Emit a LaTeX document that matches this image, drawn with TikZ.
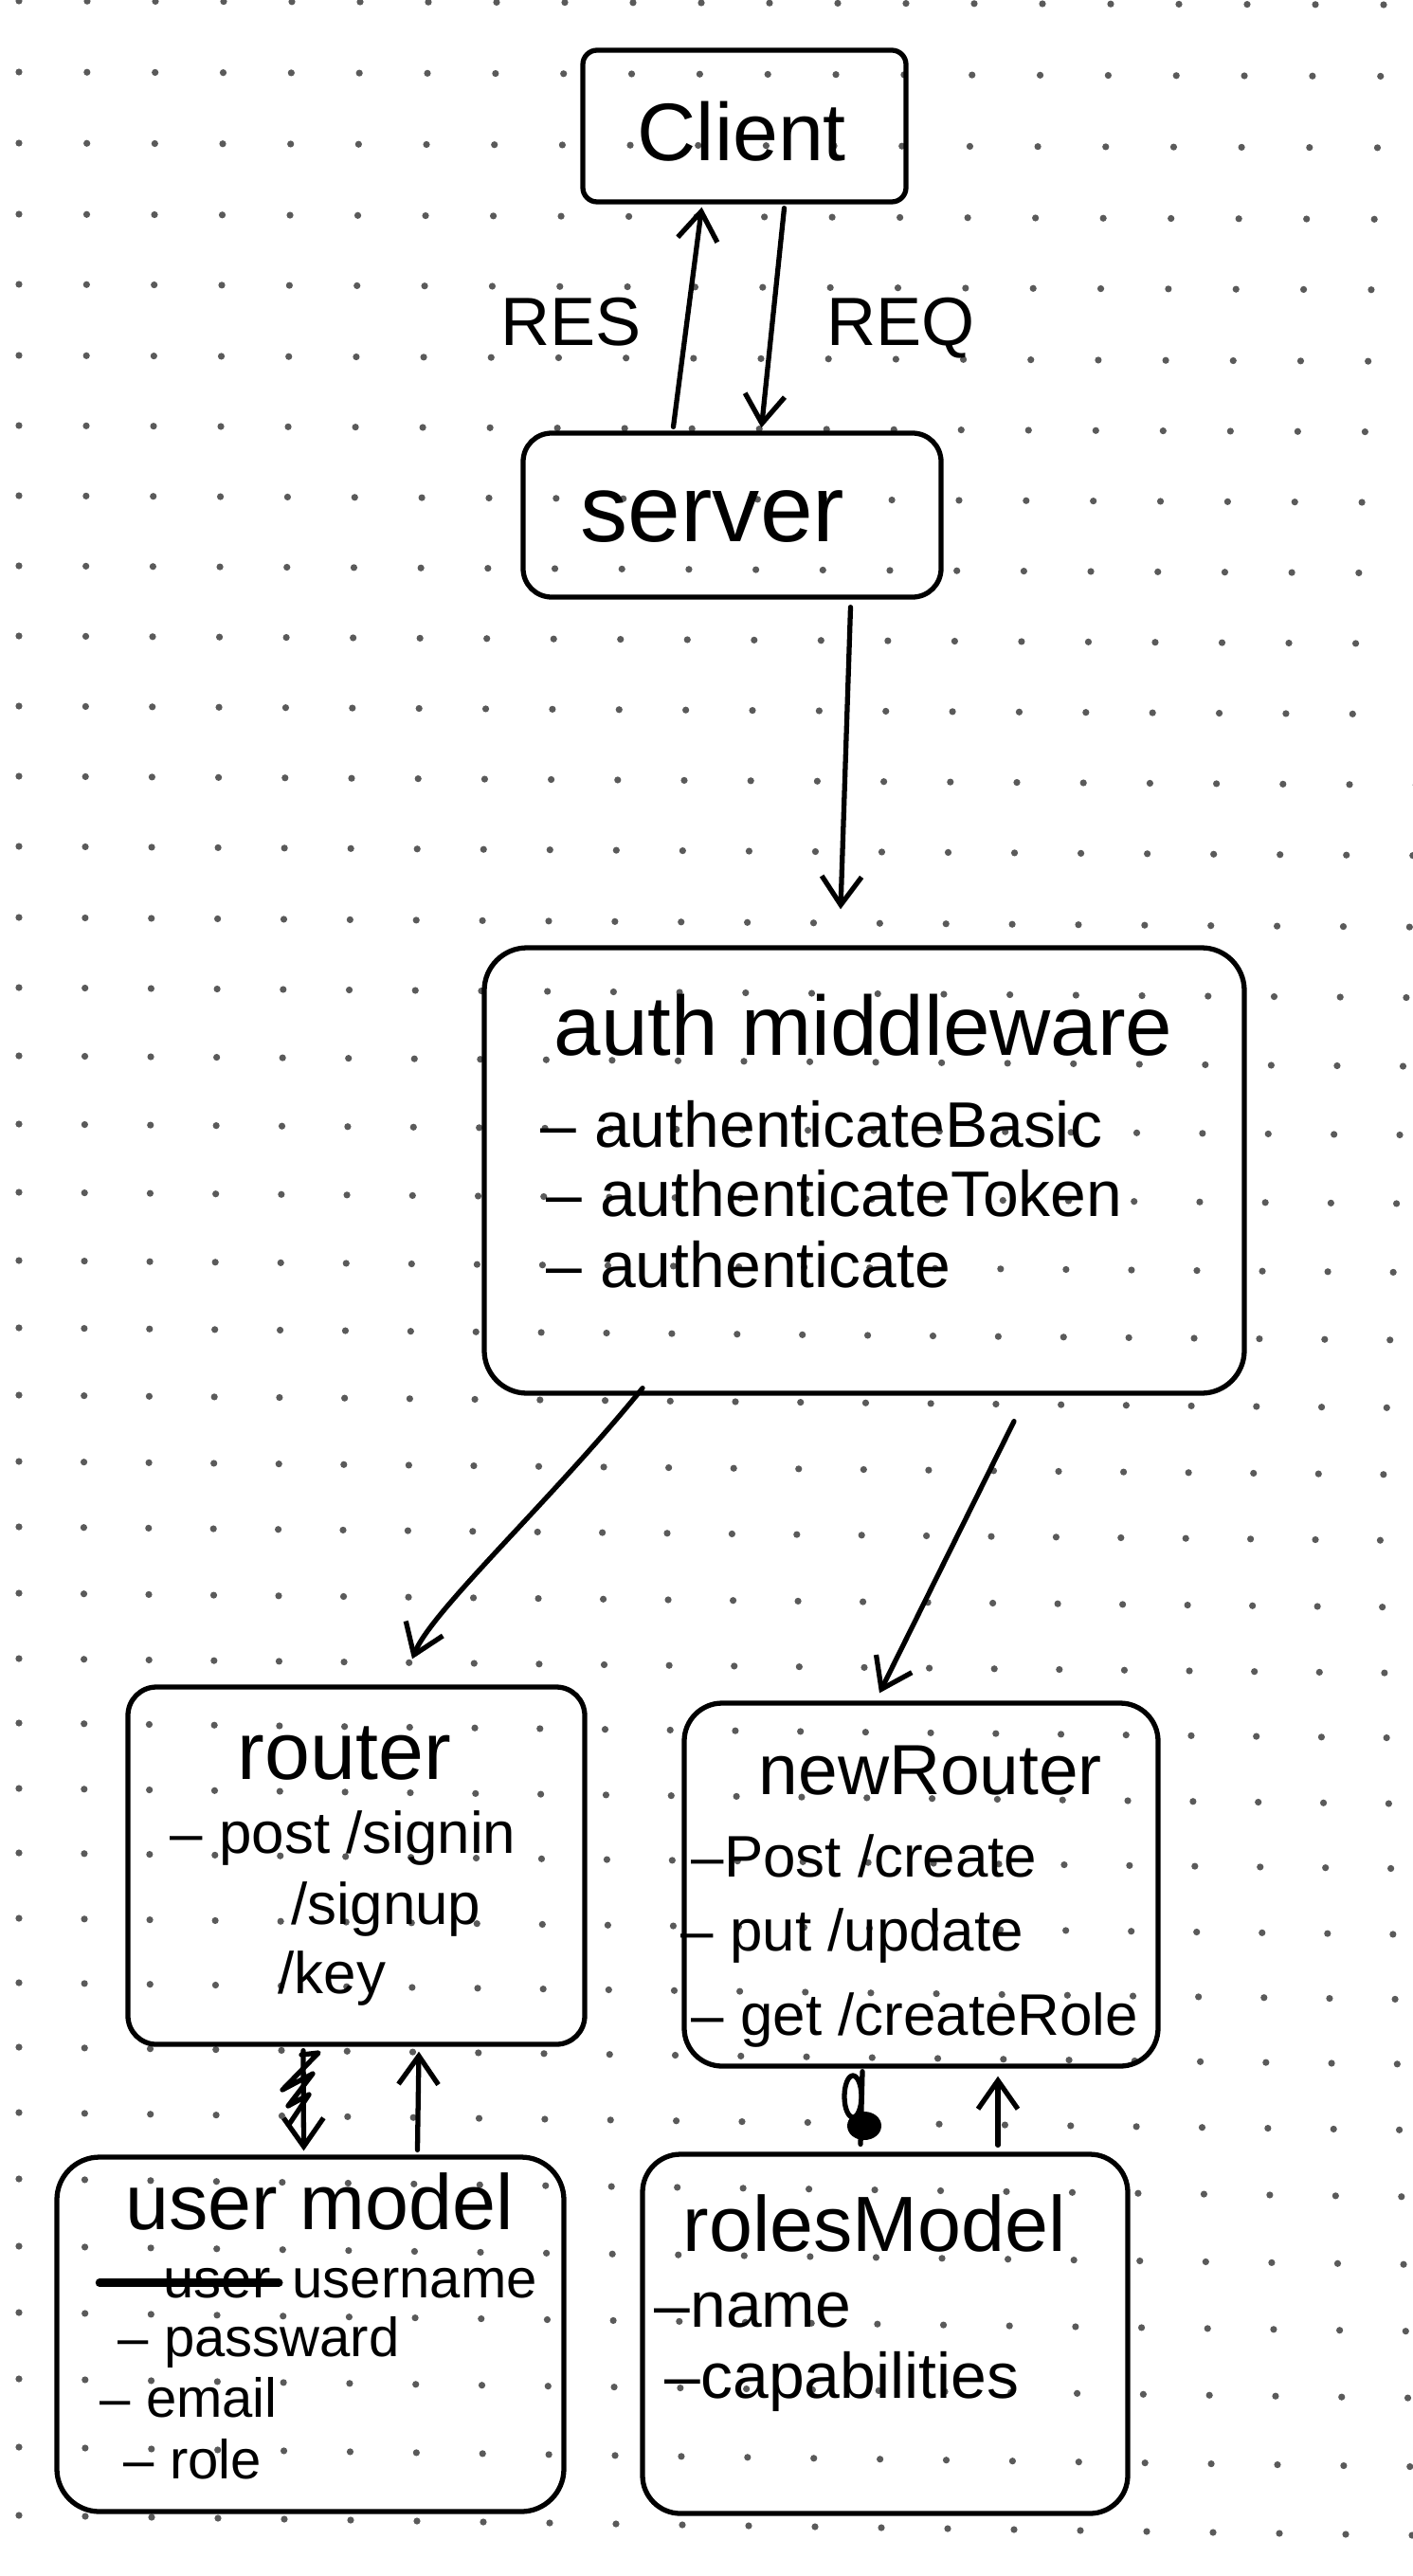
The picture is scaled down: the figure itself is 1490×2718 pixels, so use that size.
\documentclass[tikz,border=0pt]{standalone}
\usepackage{fontspec}
\setmainfont{Liberation Sans}
\usetikzlibrary{arrows.meta,fit,calc}
\definecolor{dotc}{HTML}{5A5A5A}
\begin{document}
\begin{tikzpicture}[x=0.01cm,y=-0.01cm,
  pen/.style={line width=1.5pt,line cap=round,line join=round},
  box/.style={draw,line width=1.5pt,rounded corners=0.3cm,inner sep=0pt},
  arr/.style={pen,-{Straight Barb[length=0.3cm,width=0.42cm]}},
  txt/.style={anchor=base west,inner sep=0pt,text=black},
  fbig/.style={font=\fontsize{24.5pt}{28pt}\selectfont},
  fserv/.style={font=\fontsize{28.5pt}{32pt}\selectfont},
  flab/.style={font=\fontsize{20.5pt}{24pt}\selectfont},
  fttl/.style={font=\fontsize{23.5pt}{27pt}\selectfont},
  fnr/.style={font=\fontsize{21.3pt}{25pt}\selectfont},
  fitem/.style={font=\fontsize{19.3pt}{23pt}\selectfont},
  fsm/.style={font=\fontsize{17.6pt}{21pt}\selectfont},
  fus/.style={font=\fontsize{16.5pt}{20pt}\selectfont}]
\fill[white] (0,0) rectangle (1490,2718);
\useasboundingbox (0,0) rectangle (1490,2718);
% dotted paper
\foreach \i/\yy in {0/1,1/76,2/151,3/226,4/300,5/375,6/449,7/523,8/597,9/671,10/745,11/819,12/893,13/968,14/1042,15/1114,16/1186,17/1258,18/1330,19/1401,20/1472,21/1542,22/1611,23/1681,24/1750,25/1818,26/1887,27/1955,28/2024,29/2092,30/2160,31/2229,32/2299,33/2370,34/2440,35/2510,36/2582,37/2654,38/2725}{
  \pgfmathsetmacro\ddx{\i<=22 ? 72-3.6*\i/22 : 68.4+1.6*(\i-22)/15}
  \pgfmathsetmacro\tlt{0.2+0.8*\i/37}
  \foreach \j in {0,...,21}{
    \pgfmathsetmacro\xx{20+\j*\ddx}
    \pgfmathsetmacro\yv{\yy+\j*\tlt}
    \fill[dotc] (\xx,\yv) circle (3.6);
  }
}
% boxes
\node[box,rounded corners=0.15cm,fit={(615,53) (956,213)}] (client) {};
\node[box,fit={(552,457) (993,630)}] (server) {};
\node[box,rounded corners=0.45cm,fit={(511,1000) (1313,1470)}] (auth) {};
\node[box,fit={(135,1780) (617,2157)}] (router) {};
\node[box,rounded corners=0.4cm,fit={(722,1797) (1222,2180)}] (newRouter) {};
\node[box,rounded corners=0.45cm,fit={(60,2276) (595,2650)}] (usermodel) {};
\node[box,rounded corners=0.4cm,fit={(678,2273) (1190,2652)}] (rolesModel) {};
% texts
\node[txt,fbig] (tclient) at (672,170) {Client};
\node[txt,fserv] (tserver) at (612,571) {server};
\node[txt,flab] (tres) at (528,364) {RES};
\node[txt,flab] (treq) at (872,364) {REQ};
\node[txt,font=\fontsize{25.3pt}{29pt}\selectfont] (tauth) at (584,1113) {auth middleware};
\node[txt,fitem] (ta1) at (570,1210) {– authenticateBasic};
\node[txt,fitem] (ta2) at (576,1283) {– authenticateToken};
\node[txt,fitem] (ta3) at (576,1358) {– authenticate};
\node[txt,fbig] (trouter) at (250,1877) {router};
\node[txt,fsm] (tr1) at (179,1955) {– post /signin};
\node[txt,fsm] (tr2) at (307,2030) {/signup};
\node[txt,fsm] (tr3) at (293,2103) {/key};
\node[txt,fnr] (tnew) at (800,1893) {newRouter};
\node[txt,fsm] (tn1) at (729,1980) {–Post /create};
\node[txt,fsm] (tn2) at (718,2058) {– put /update};
\node[txt,fsm] (tn3) at (729,2147) {– get /createRole};
\node[txt,fttl] (tuser) at (132,2352) {user model};
\node[txt,fus] (tuold) at (172,2424) {user};
\node[txt,fus] (tu1) at (308,2424) {username};
\node[txt,fus] (tu2) at (124,2486) {– passward};
\node[txt,fus] (tu3) at (105,2550) {– email};
\node[txt,fus] (tu4) at (130,2615) {– role};
\node[txt,fttl] (troles) at (720,2375) {rolesModel};
\node[txt,fitem] (tro1) at (690,2455) {–name};
\node[txt,fitem] (tro2) at (701,2530) {–capabilities};
\draw[pen,line width=2.4pt] ($(tuold.west)+(-67,0)$) -- ($(tuold.east)+(8,0)$);
% connectors
\draw[arr] ($(server.north)+(-62,-4)$) -- ($(client.south)+(-45,3)$);
\draw[arr] ($(client.south)+(42,4)$) -- ($(server.north)+(31,-3)$);
\draw[arr] ($(server.south)+(125,8)$) -- ($(auth.north)+(-25,-38)$);
\draw[arr] ($(auth.south)+(-234,-8)$) .. controls (580,1585) and (455,1700) .. ($(router.north)+(59,-27)$);
\draw[arr] ($(auth.south)+(158,27)$) -- ($(newRouter.north)+(-44,-8)$);
\draw[arr] ($(router.south)+(-56,4)$) -- ($(usermodel.north)+(-7,-4)$);
\draw[pen] (318,2168) -- (336,2166) -- (298,2205) -- (330,2188) -- (304,2222) -- (326,2210) -- (306,2240);
\draw[arr] ($(usermodel.north)+(113,-5)$) -- ($(router.south)+(66,5)$);
\draw[pen] ($(newRouter.south)+(-62,3)$) -- ($(rolesModel.north)+(-26,-8)$);
\draw[pen] (900,2212) ellipse (9 and 22);
\fill (912,2243) ellipse (18 and 15);
\draw[arr] ($(rolesModel.north)+(119,-7)$) -- ($(newRouter.south)+(81,8)$);
\end{tikzpicture}
\end{document}
